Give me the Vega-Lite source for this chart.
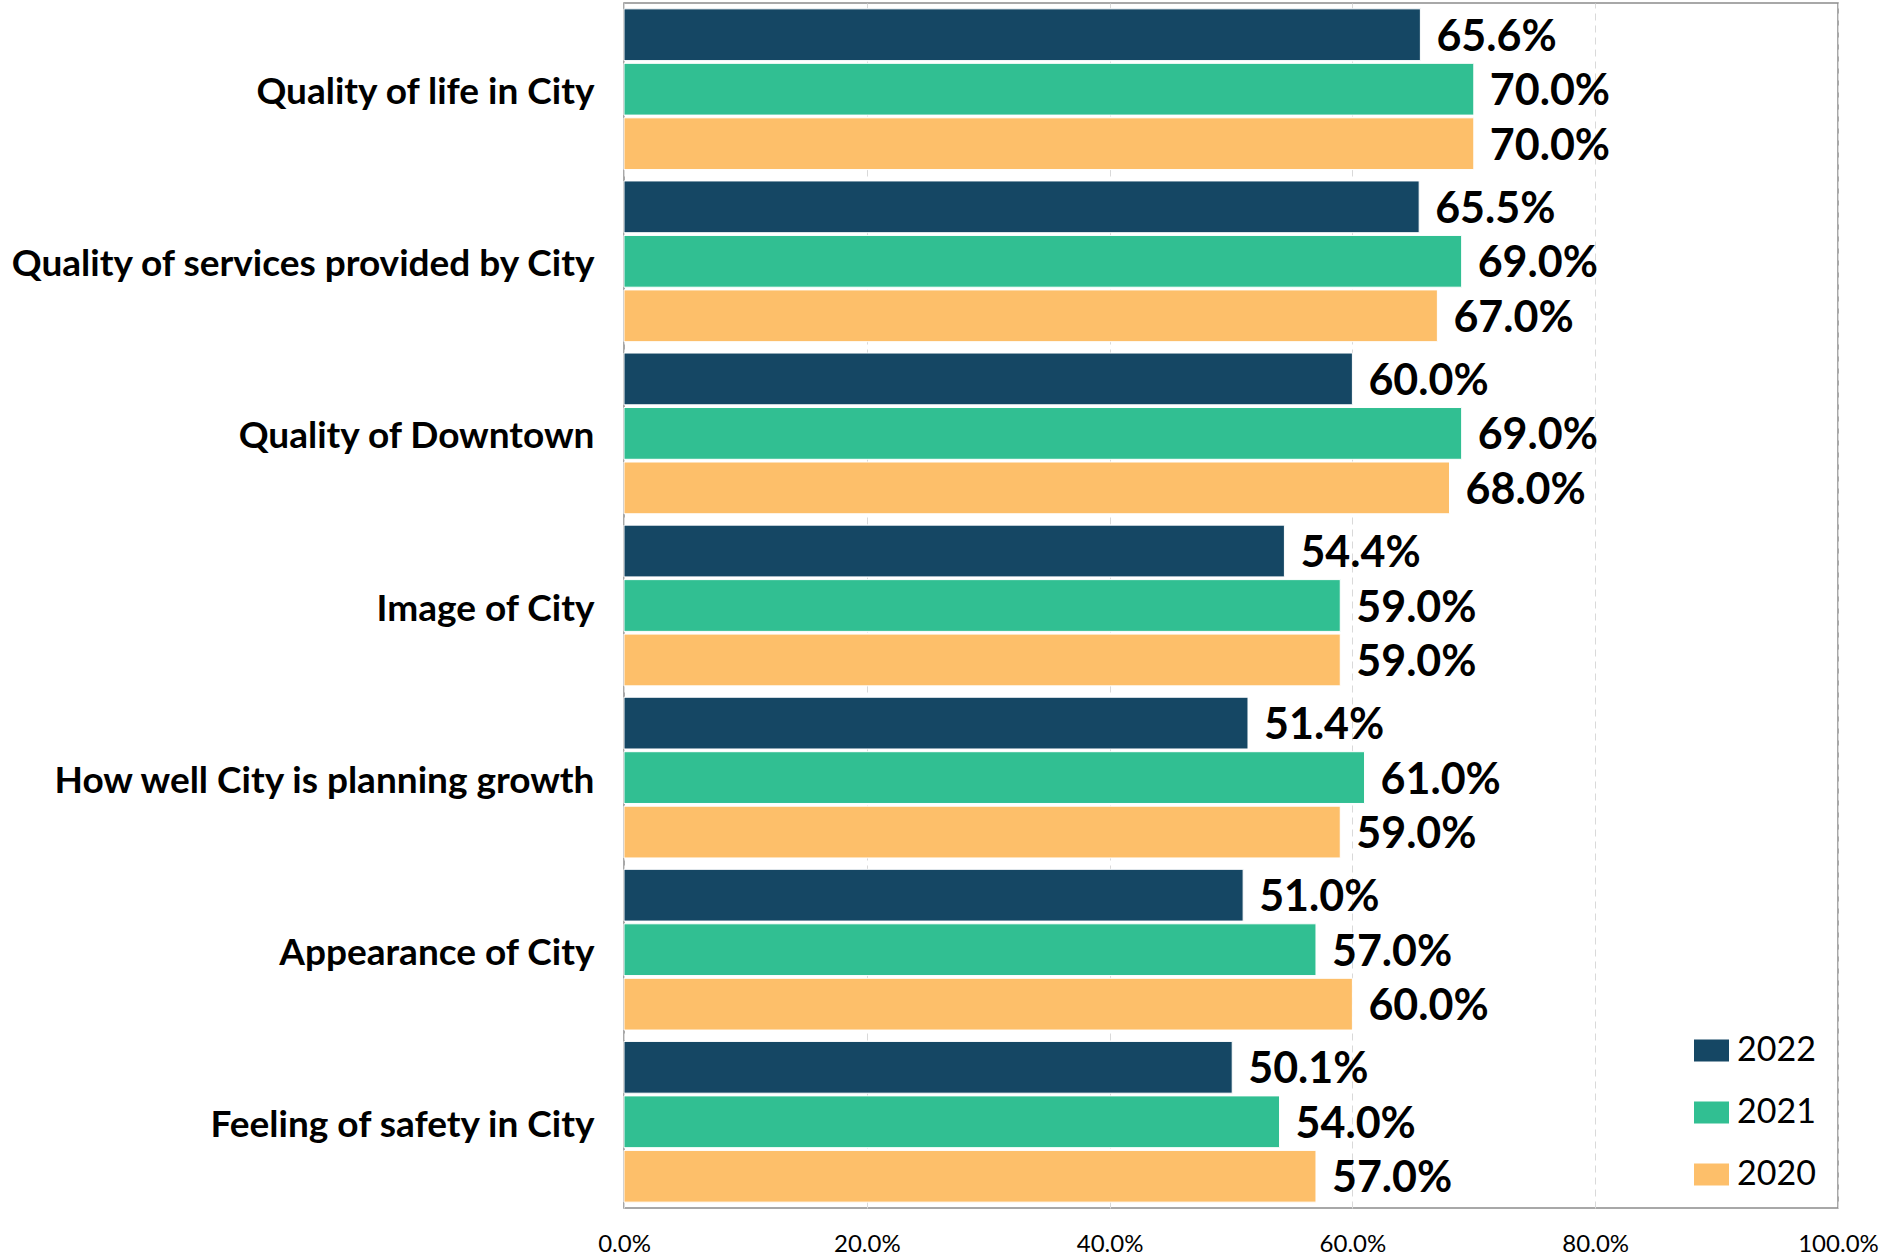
{
  "$schema": "https://vega.github.io/schema/vega-lite/v6.json",
  "autosize": {"type": "none"},
  "width": 1214,
  "height": 1205,
  "padding": {"left": 624, "top": 3, "right": 43, "bottom": 48},
  "background": "white",
  "config": {
    "view": {"stroke": "#8c8c8c", "strokeWidth": 1.5},
    "font": "Lato"
  },
  "data": {
    "values": [
      {"item": "Quality of life in City", "year": "2022", "value": 0.656},
      {"item": "Quality of life in City", "year": "2021", "value": 0.70},
      {"item": "Quality of life in City", "year": "2020", "value": 0.70},
      {"item": "Quality of services provided by City", "year": "2022", "value": 0.655},
      {"item": "Quality of services provided by City", "year": "2021", "value": 0.69},
      {"item": "Quality of services provided by City", "year": "2020", "value": 0.67},
      {"item": "Quality of Downtown", "year": "2022", "value": 0.60},
      {"item": "Quality of Downtown", "year": "2021", "value": 0.69},
      {"item": "Quality of Downtown", "year": "2020", "value": 0.68},
      {"item": "Image of City", "year": "2022", "value": 0.544},
      {"item": "Image of City", "year": "2021", "value": 0.59},
      {"item": "Image of City", "year": "2020", "value": 0.59},
      {"item": "How well City is planning growth", "year": "2022", "value": 0.514},
      {"item": "How well City is planning growth", "year": "2021", "value": 0.61},
      {"item": "How well City is planning growth", "year": "2020", "value": 0.59},
      {"item": "Appearance of City", "year": "2022", "value": 0.51},
      {"item": "Appearance of City", "year": "2021", "value": 0.57},
      {"item": "Appearance of City", "year": "2020", "value": 0.60},
      {"item": "Feeling of safety in City", "year": "2022", "value": 0.501},
      {"item": "Feeling of safety in City", "year": "2021", "value": 0.54},
      {"item": "Feeling of safety in City", "year": "2020", "value": 0.57}
    ]
  },
  "encoding": {
    "y": {
      "field": "item",
      "type": "nominal",
      "sort": null,
      "title": null,
      "scale": {"paddingInner": 0.066, "paddingOuter": 0.034},
      "axis": {
        "domain": false,
        "ticks": false,
        "labelFont": "Lato",
        "labelFontSize": 37,
        "labelFontWeight": "bold",
        "labelColor": "#000000",
        "labelPadding": 30,
        "labelOffset": 4,
        "labelLimit": 700
      }
    },
    "yOffset": {
      "field": "year",
      "type": "nominal",
      "sort": ["2022", "2021", "2020"],
      "scale": {"paddingInner": 0.05, "paddingOuter": 0}
    },
    "x": {
      "field": "value",
      "type": "quantitative",
      "title": null,
      "scale": {"domain": [0, 1], "nice": false},
      "axis": {
        "values": [0, 0.2, 0.4, 0.6, 0.8, 1.0],
        "format": ".1%",
        "domain": false,
        "ticks": false,
        "grid": true,
        "gridColor": "#d9d9d9",
        "gridDash": [7, 5],
        "gridWidth": 1,
        "labelFlush": false,
        "labelFont": "Lato",
        "labelFontSize": 24,
        "labelColor": "#000000",
        "labelPadding": 24
      }
    }
  },
  "layer": [
    {
      "mark": {"type": "bar", "stroke": "white", "strokeWidth": 1},
      "encoding": {
        "color": {
          "field": "year",
          "type": "nominal",
          "sort": ["2022", "2021", "2020"],
          "scale": {"domain": ["2022", "2021", "2020"], "range": ["#154764", "#31BF92", "#FDBF6A"]},
          "legend": {
            "title": null,
            "orient": "none",
            "legendX": 1070,
            "legendY": 1030,
            "padding": 0,
            "symbolType": "M-1,-0.63L1,-0.63L1,0.63L-1,0.63Z",
            "symbolSize": 1225,
            "symbolStrokeWidth": 0,
            "labelFont": "Lato",
            "labelFontSize": 34,
            "labelColor": "#000000",
            "labelOffset": 8,
            "rowPadding": 27
          }
        }
      }
    },
    {
      "mark": {"type": "text", "align": "left", "baseline": "middle", "dx": 16, "dy": 3, "fontSize": 43, "fontWeight": "bold", "font": "Lato", "color": "#000000"},
      "encoding": {
        "text": {"field": "value", "type": "quantitative", "format": ".1%"}
      }
    }
  ]
}
